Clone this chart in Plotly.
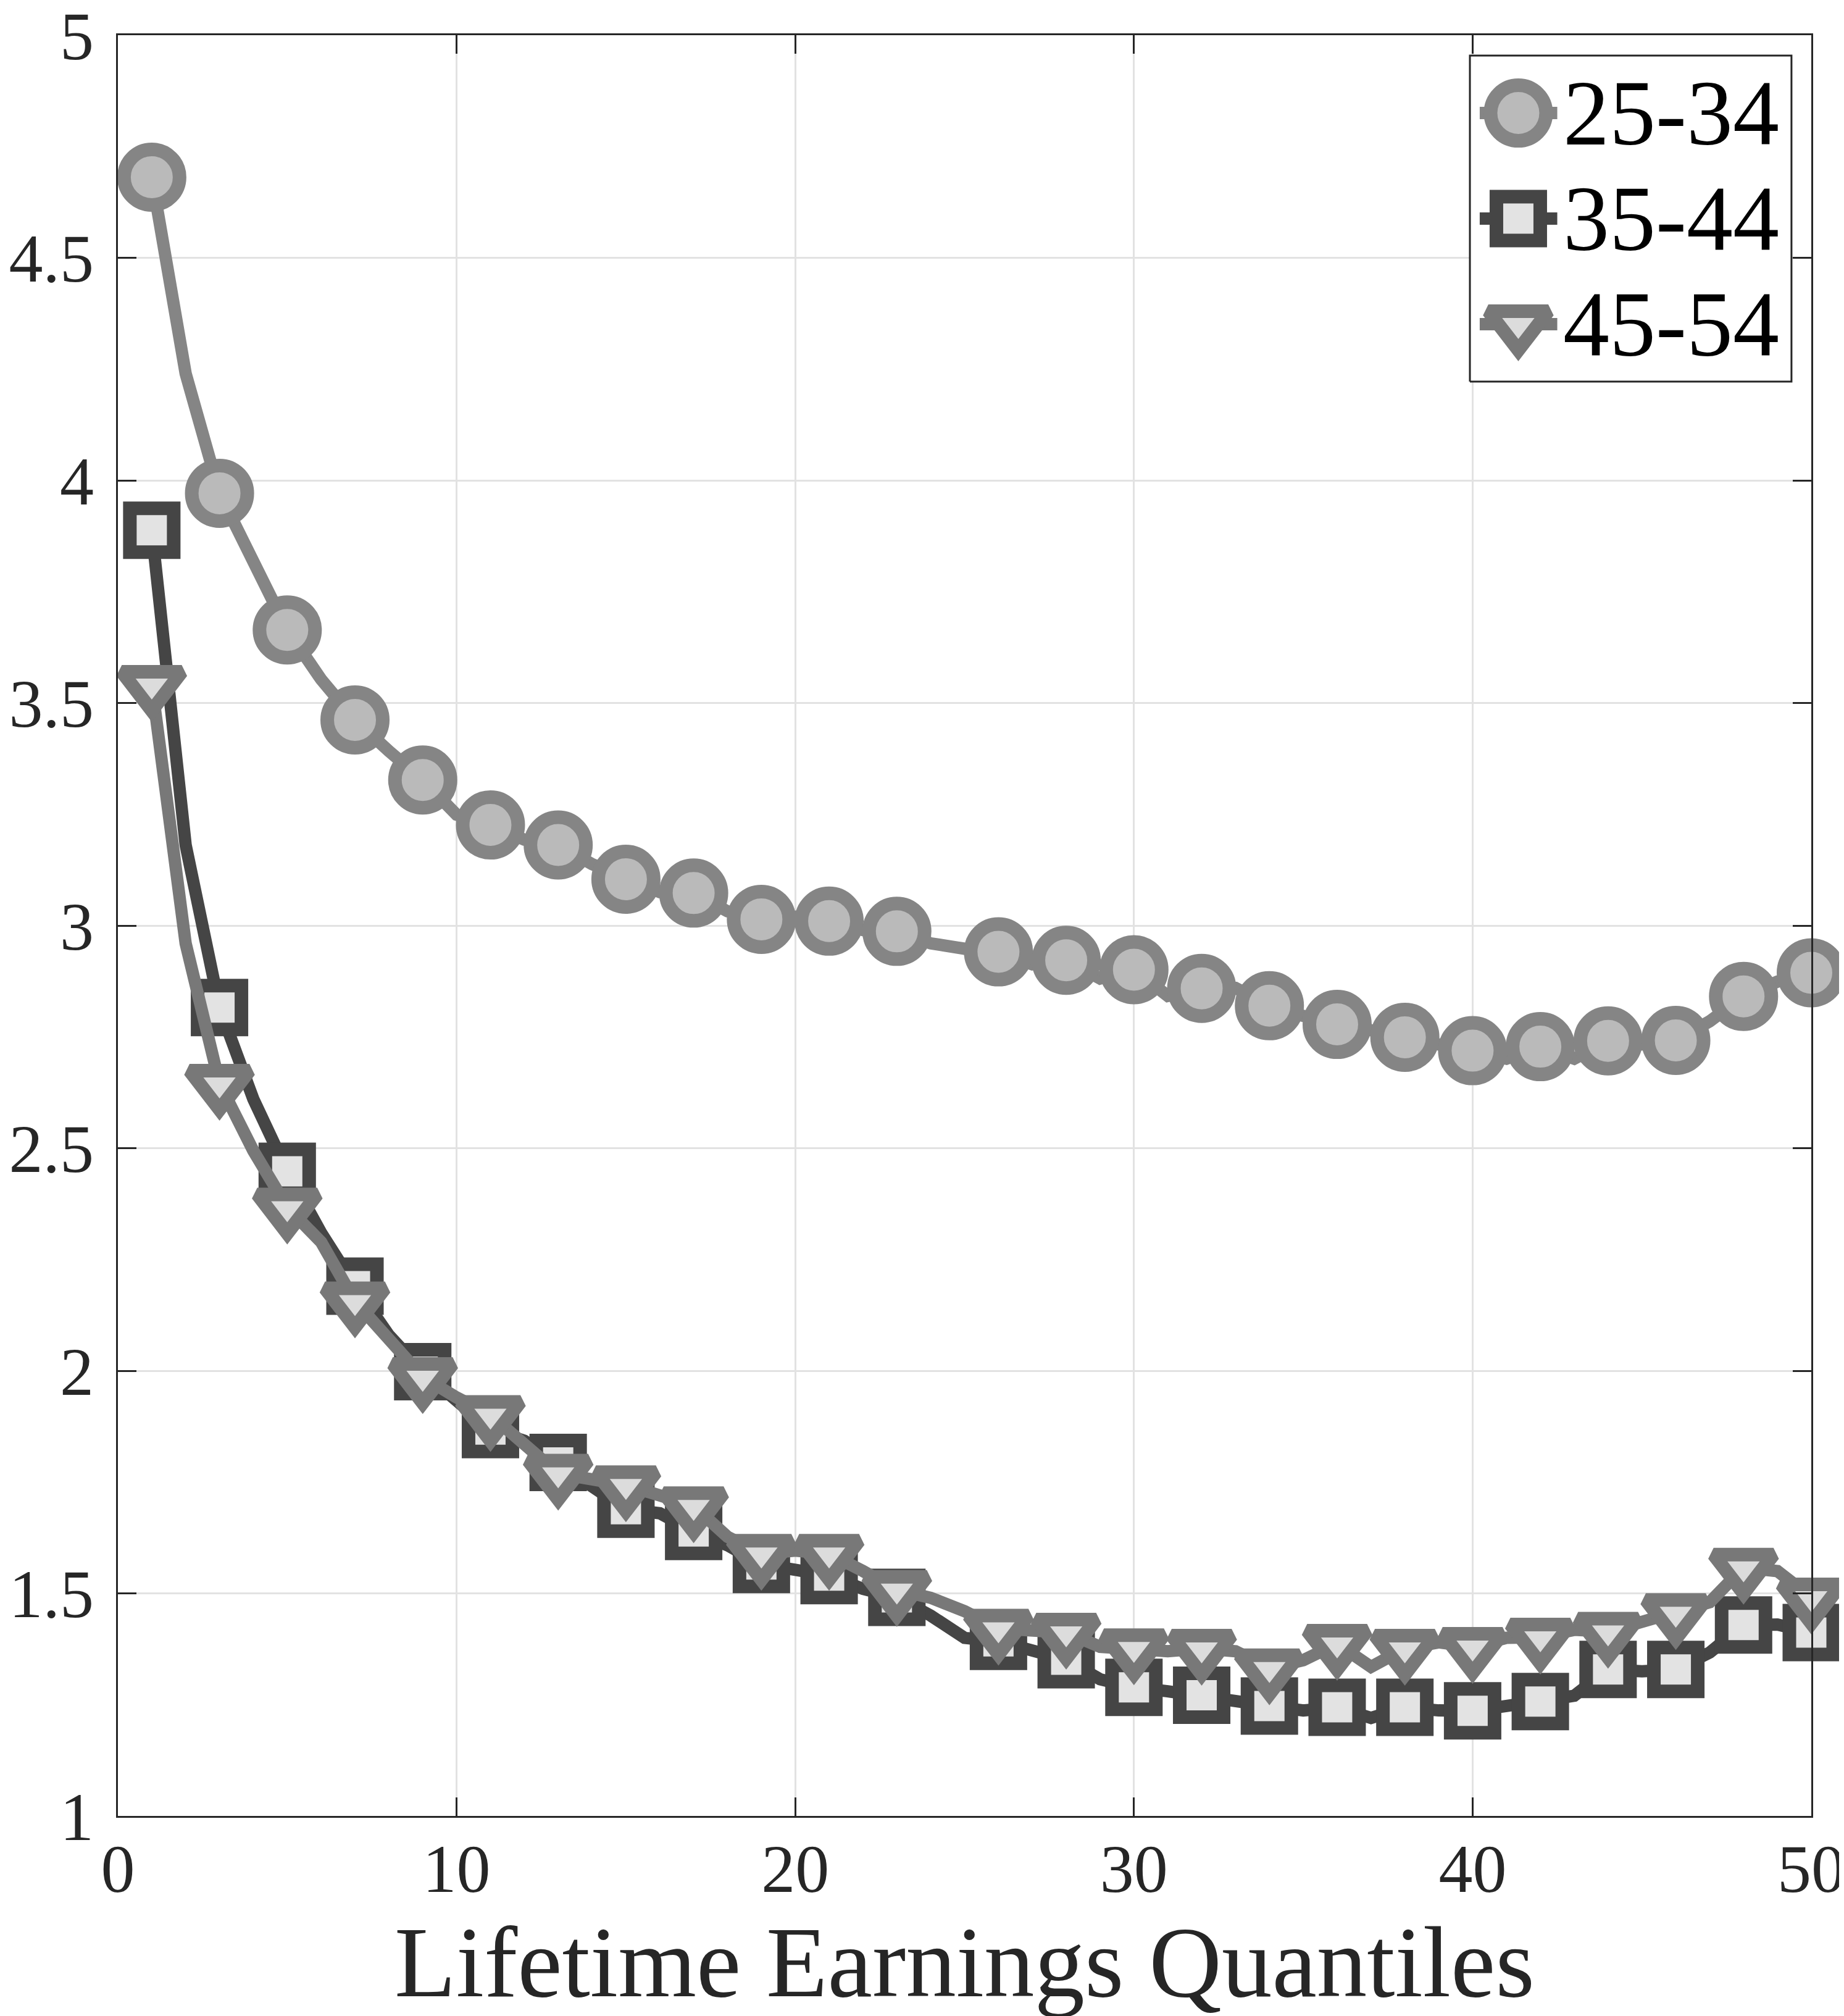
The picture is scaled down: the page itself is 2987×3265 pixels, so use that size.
import plotly.graph_objects as go

# quantile index of every point, and the quantiles that carry a marker
quantiles = list(range(1, 51))
marker_quantiles = list(range(1, 24, 2)) + list(range(26, 51, 2))

age_25_34 = [
    4.681, 4.24, 3.971, 3.81, 3.664, 3.553, 3.462, 3.392, 3.327, 3.249,
    3.226, 3.193, 3.181, 3.138, 3.104, 3.075, 3.073, 3.032, 3.014, 3.02,
    3.010, 2.99, 2.987, 2.96, 2.948, 2.941, 2.913, 2.922, 2.881, 2.901,
    2.842, 2.859, 2.86, 2.820, 2.797, 2.778, 2.765, 2.749, 2.733, 2.719,
    2.701, 2.728, 2.701, 2.741, 2.733, 2.742, 2.785, 2.841, 2.874, 2.894,
]
age_35_44 = [
    3.888, 3.181, 2.816, 2.61, 2.448, 2.31, 2.190, 2.08, 1.998, 1.933,
    1.868, 1.843, 1.794, 1.74, 1.689, 1.68, 1.639, 1.608, 1.565, 1.553,
    1.540, 1.51, 1.491, 1.45, 1.40, 1.392, 1.37, 1.351, 1.307, 1.289,
    1.28, 1.271, 1.26, 1.247, 1.237, 1.244, 1.22, 1.244, 1.237, 1.236,
    1.247, 1.257, 1.27, 1.329, 1.325, 1.329, 1.367, 1.429, 1.43, 1.412,
]
age_45_54 = [
    3.541, 2.96, 2.645, 2.494, 2.367, 2.289, 2.156, 2.07, 1.986, 1.94,
    1.901, 1.835, 1.769, 1.756, 1.743, 1.72, 1.696, 1.627, 1.589, 1.596,
    1.589, 1.55, 1.508, 1.49, 1.46, 1.421, 1.415, 1.412, 1.38, 1.377,
    1.37, 1.376, 1.37, 1.332, 1.35, 1.387, 1.335, 1.376, 1.39, 1.380,
    1.40, 1.401, 1.418, 1.414, 1.436, 1.456, 1.48, 1.558, 1.55, 1.491,
]

age_groups = ["25-34", "35-44", "45-54"]
series = [age_25_34, age_35_44, age_45_54]

x_ticks = [0, 10, 20, 30, 40, 50]
y_ticks = [1, 1.5, 2, 2.5, 3, 3.5, 4, 4.5, 5]
y_tick_text = ["1", "1.5", "2", "2.5", "3", "3.5", "4", "4.5", "5"]

styles = [
    dict(color="#858585", fill="#bababa", symbol="circle", size=90),
    dict(color="#454545", fill="#e3e3e3", symbol="square", size=71),
    dict(color="#787878", fill="#dcdcdc", symbol="triangle-down", size=84),
]
LINE_W = 20
EDGE_W = 22
FONT = "Liberation Serif"
AXIS_COLOR = "#262626"

fig = go.Figure()

for values, st in zip(series, styles):
    fig.add_trace(go.Scatter(
        x=quantiles, y=values, mode="lines",
        line=dict(color=st["color"], width=LINE_W),
        showlegend=False, hoverinfo="skip",
    ))
    fig.add_trace(go.Scatter(
        x=marker_quantiles, y=[values[q - 1] for q in marker_quantiles],
        mode="markers", cliponaxis=False,
        marker=dict(symbol=st["symbol"], size=st["size"], color=st["fill"],
                    line=dict(color=st["color"], width=EDGE_W)),
        showlegend=False,
    ))

# hand-made legend (plotly caps legend symbols at 16px), drawn on an overlay
# axis pair whose 0..1 range matches the plot area
legend_rows = [0.9563, 0.8970, 0.8377]
sym_x, seg_left, seg_right, text_x = 0.8270, 0.8042, 0.8500, 0.8527
box_x0, box_x1, box_y0, box_y1 = 0.7984, 0.9883, 0.8055, 0.9886

fig.add_trace(go.Scatter(
    x=[box_x0, box_x1, box_x1, box_x0, box_x0],
    y=[box_y0, box_y0, box_y1, box_y1, box_y0],
    xaxis="x2", yaxis="y2", mode="lines", fill="toself", fillcolor="white",
    line=dict(color=AXIS_COLOR, width=3), showlegend=False, hoverinfo="skip",
))
for label, row_y, st in zip(age_groups, legend_rows, styles):
    fig.add_trace(go.Scatter(
        x=[seg_left, seg_right], y=[row_y, row_y],
        xaxis="x2", yaxis="y2", mode="lines",
        line=dict(color=st["color"], width=LINE_W),
        showlegend=False, hoverinfo="skip",
    ))
    fig.add_trace(go.Scatter(
        x=[sym_x], y=[row_y],
        xaxis="x2", yaxis="y2", mode="markers", cliponaxis=False,
        marker=dict(symbol=st["symbol"], size=st["size"], color=st["fill"],
                    line=dict(color=st["color"], width=EDGE_W)),
        showlegend=False, hoverinfo="skip",
    ))
    fig.add_annotation(
        x=text_x, y=row_y, xref="paper", yref="paper", text=label,
        showarrow=False, xanchor="left", yanchor="middle",
        font=dict(family=FONT, size=150, color="black"),
    )

axis_common = dict(
    showline=True, linecolor=AXIS_COLOR, linewidth=3, mirror="ticks",
    ticks="inside", ticklen=30, tickwidth=3, tickcolor=AXIS_COLOR,
    showgrid=True, gridcolor="#e2e2e2", gridwidth=3, zeroline=False,
    ticklabeloverflow="allow", automargin=False,
    tickfont=dict(family=FONT, size=110, color=AXIS_COLOR),
)

fig.update_layout(
    width=2987, height=3265,
    margin=dict(l=183, r=61, t=49, b=332),
    paper_bgcolor="white", plot_bgcolor="white",
    showlegend=False,
    xaxis=dict(
        range=[0, 50], tickvals=x_ticks, ticklabelstandoff=-12,
        title=dict(text="Lifetime Earnings Quantiles", standoff=20,
                   font=dict(family=FONT, size=163, color=AXIS_COLOR)),
        **axis_common,
    ),
    yaxis=dict(
        range=[1, 5], tickvals=y_ticks, ticktext=y_tick_text, ticklabelstandoff=14,
        **axis_common,
    ),
    xaxis2=dict(overlaying="x", range=[0, 1], visible=False, fixedrange=True),
    yaxis2=dict(overlaying="y", range=[0, 1], visible=False, fixedrange=True),
)

fig.write_html("out.html")
